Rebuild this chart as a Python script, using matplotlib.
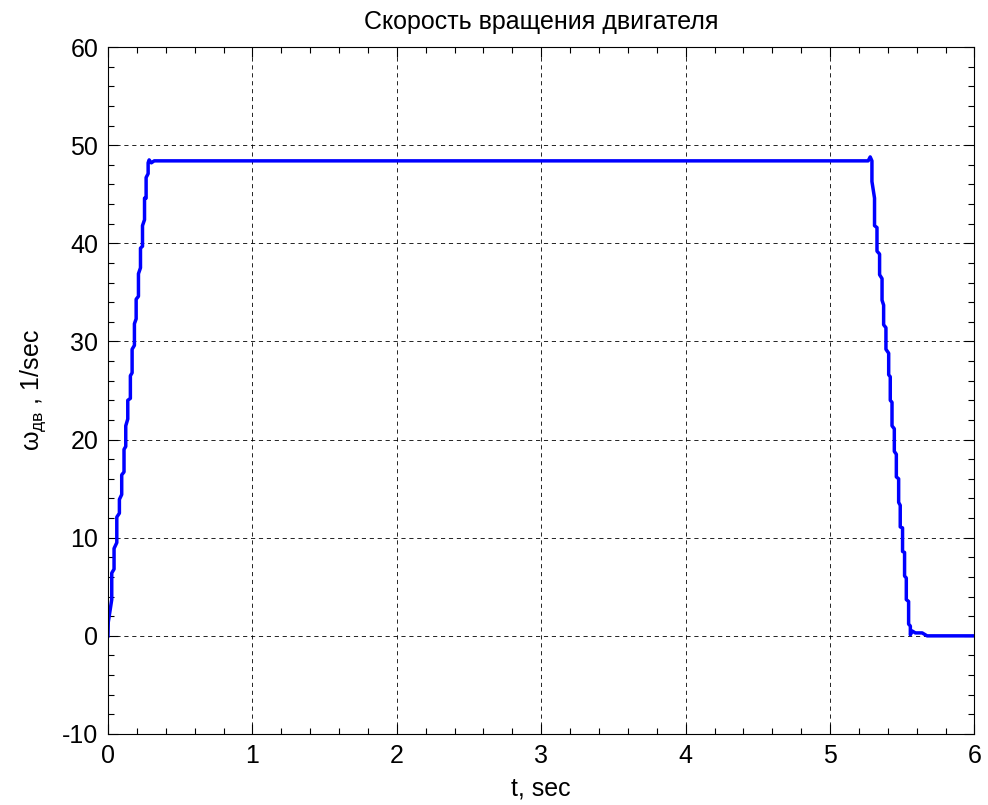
import numpy as np
import matplotlib
matplotlib.use('Agg')
import matplotlib.pyplot as plt
from matplotlib.ticker import MultipleLocator

plt.rcParams['font.family'] = ['Liberation Sans', 'DejaVu Sans']
plt.rcParams['mathtext.fontset'] = 'custom'
plt.rcParams['mathtext.rm'] = 'Liberation Sans'
plt.rcParams['mathtext.it'] = 'Liberation Sans'
plt.rcParams['axes.unicode_minus'] = False

# staircase speed curve (t in sec, omega in 1/sec)
t = [0.000, 0.002, 0.026, 0.026, 0.042, 0.042, 0.061, 0.061, 0.079, 0.079,
     0.095, 0.095, 0.111, 0.111, 0.123, 0.123, 0.137, 0.137, 0.155, 0.155,
     0.167, 0.167, 0.183, 0.183, 0.195, 0.195, 0.211, 0.211, 0.225, 0.225,
     0.239, 0.239, 0.253, 0.253, 0.264, 0.264, 0.278, 0.278, 0.285, 0.300,
     0.320, 5.264, 5.278, 5.290, 5.290, 5.308, 5.308, 5.325, 5.325, 5.343,
     5.343, 5.360, 5.360, 5.371, 5.371, 5.387, 5.387, 5.406, 5.406, 5.417,
     5.417, 5.429, 5.429, 5.445, 5.445, 5.459, 5.459, 5.475, 5.475, 5.486,
     5.486, 5.502, 5.502, 5.516, 5.516, 5.528, 5.528, 5.544, 5.544, 5.556,
     5.556, 5.568, 5.591, 5.638, 5.672, 6.000]
w = [0.0, 1.4, 3.7, 6.4, 6.8, 8.9, 9.5, 12.1, 12.5, 13.9,
     14.4, 16.4, 16.7, 19.0, 19.3, 21.4, 22.1, 24.0, 24.2, 26.5,
     26.8, 29.2, 29.6, 31.8, 32.3, 34.3, 34.6, 36.9, 37.5, 39.5,
     39.7, 41.8, 42.4, 44.6, 44.6, 46.7, 47.1, 48.2, 48.5, 48.2,
     48.4, 48.4, 48.8, 48.4, 46.3, 44.6, 41.8, 41.6, 39.2, 38.9,
     36.8, 36.4, 34.2, 33.7, 31.7, 31.4, 29.2, 28.8, 26.6, 26.4,
     24.0, 23.8, 21.4, 21.1, 18.8, 18.5, 16.2, 16.0, 13.6, 13.3,
     11.1, 11.0, 8.6, 8.5, 6.1, 5.9, 3.7, 3.5, 1.2, 1.0,
     0.1, 0.5, 0.3, 0.3, 0.0, 0.0]

fig = plt.figure(figsize=(9.88, 8.05), dpi=100)
ax = fig.add_axes([0.1093, 0.0882, 0.877, 0.8534])

ax.plot(t, w, color='#0000ff', linewidth=2.5)

ax.set_xlim(0, 6)
ax.set_ylim(-10, 60)
ax.xaxis.set_major_locator(MultipleLocator(1))
ax.xaxis.set_minor_locator(MultipleLocator(0.2))
ax.yaxis.set_major_locator(MultipleLocator(10))
ax.yaxis.set_minor_locator(MultipleLocator(2))
ax.tick_params(which='both', direction='in', top=True, right=True,
               labelsize=18, pad=7)
ax.tick_params(which='major', length=7, width=0.8)
ax.tick_params(which='minor', length=4, width=0.8)
for s in ax.spines.values():
    s.set_linewidth(0.8)

ax.grid(True, which='major', color='black', linestyle=(0, (5, 4.5)), linewidth=0.6)

ax.set_title('Скорость вращения двигателя', fontsize=18, pad=13)
ax.set_xlabel('t, sec', fontsize=18, labelpad=6)
ax.set_ylabel(r'$\mathregular{\omega_{дв}}$ , 1/sec', fontsize=18, labelpad=10)

fig.savefig('out.png', dpi=100)
